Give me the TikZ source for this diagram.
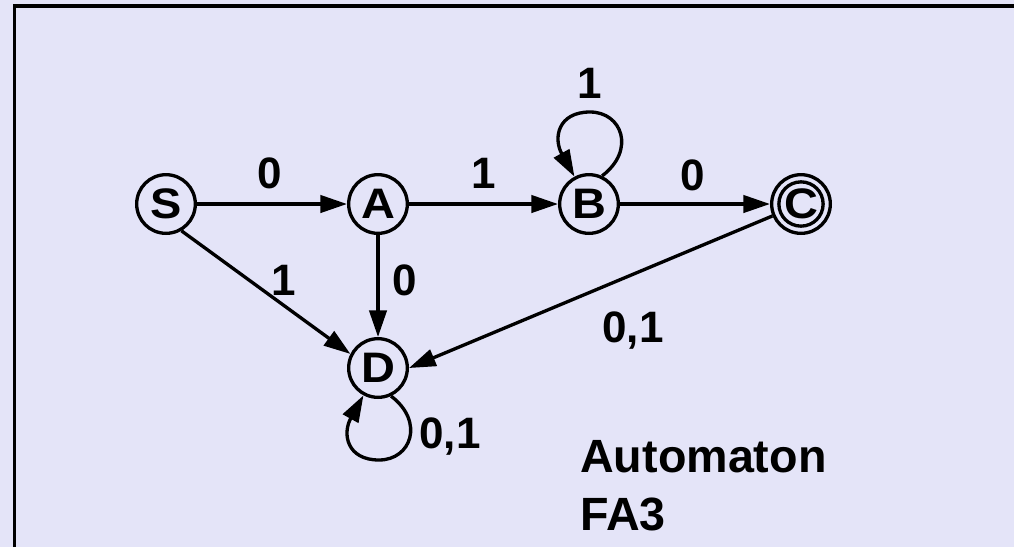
\documentclass[tikz,border=0pt]{standalone}
\usepackage{fontspec}
\setmainfont{Liberation Sans}
\newfontfamily\nodefont[FakeStretch=1.1]{Liberation Sans}
\usetikzlibrary{arrows.meta}
\definecolor{bg}{RGB}{228,228,248}
\begin{document}
\begin{tikzpicture}[x=0.75pt,y=-0.75pt,
  state/.style={circle,draw,line width=2.5pt,minimum size=44pt,inner sep=0pt,
    font=\nodefont\fontsize{32}{34}\selectfont\bfseries},
  lbl/.style={anchor=base,inner sep=0pt,font=\fontsize{33}{36}\selectfont\bfseries},
  title/.style={anchor=base west,inner sep=0pt,font=\fontsize{35}{40}\selectfont\bfseries},
  arr/.style={line width=2.5pt,-{Triangle[length=20pt,width=13pt]}},
  frame/.style={line width=2.4pt}]
\useasboundingbox[fill=bg] (0,0) rectangle (1014,547);
\draw[frame] (14.5,547) -- (14.5,6) -- (1014,6);

\node[state] (S) at (166,204) {S};
\node[state] (A) at (378,204) {A};
\node[state] (B) at (589,204) {B};
\node[state] (C) at (801,204) {C};
\node[state] (D) at (378,368) {D};
\draw[line width=2.5pt] (C.center) circle[radius=16.6pt];

\draw[arr] (S) -- (A);
\draw[arr] (A) -- (B);
\draw[arr] (B) -- (C);
\draw[arr] (A) -- (D);
\draw[arr] (S.-60) -- (D.153);
\draw[arr] (C) -- (D.east);
\draw[arr] (B.65) .. controls (636,150) and (622,112) .. (590,112)
  .. controls (558,112) and (553,138) .. (B.118);
\draw[arr] (D.-65) .. controls (425,422) and (411,460) .. (379,460)
  .. controls (347,460) and (342,434) .. (D.-118);

\node[lbl] (l1) at (270,188) {0};
\node[lbl] (l2) at (484,188) {1};
\node[lbl] (l3) at (693,190) {0};
\node[lbl] (l4) at (590,98) {1};
\node[lbl] (l5) at (284,295) {1};
\node[lbl] (l6) at (405,295) {0};
\node[lbl] (l7) at (633,342) {0,1};
\node[lbl] (l8) at (450,448) {0,1};

\node[title] (t1) at (580,472) {Automaton};
\node[title] (t2) at (580,530) {FA3};
\end{tikzpicture}
\end{document}
